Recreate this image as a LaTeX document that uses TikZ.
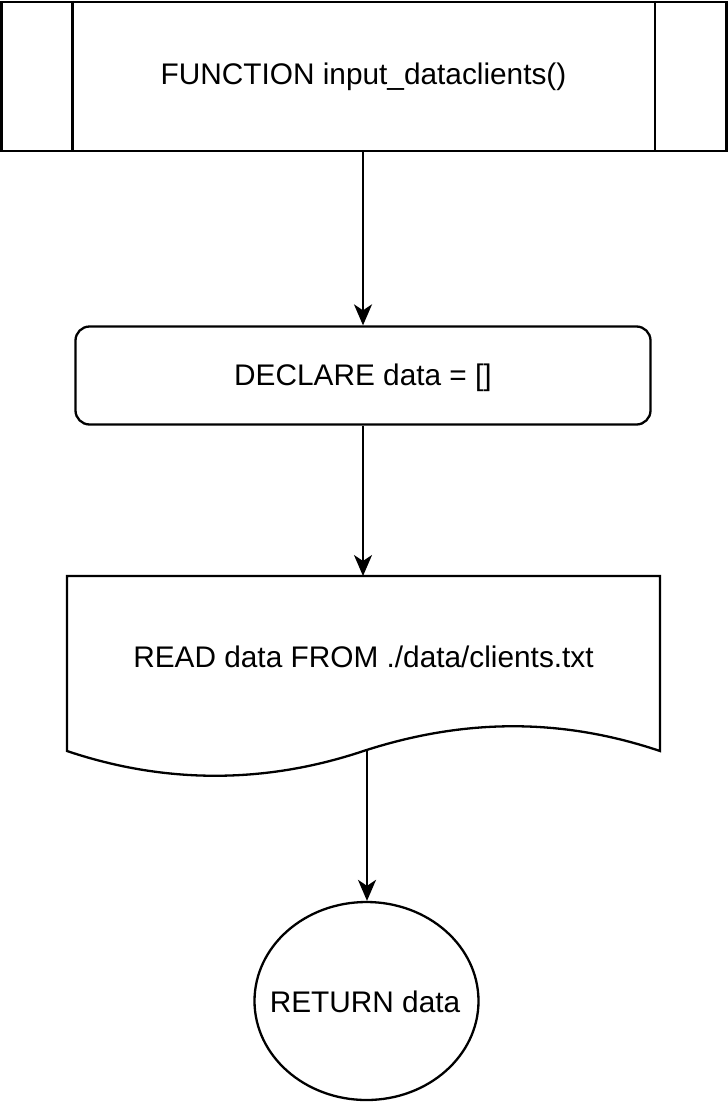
\documentclass[tikz,border=0pt]{standalone}
\usepackage{fontspec}
\setmainfont{Liberation Sans}
\usetikzlibrary{shapes.geometric,arrows.meta}
\begin{document}
\begin{tikzpicture}[x=1pt,y=-1pt,
  lw/.style={line width=2.3pt},
  txt/.style={font=\fontsize{29.8}{34}\selectfont, inner sep=0pt},
  arr/.style={lw,-{Stealth[length=21pt,width=18pt,inset=6pt]}}]
\useasboundingbox (0,0) rectangle (728,1103);
% predefined process
\node[draw,lw,rectangle,minimum width=725pt,minimum height=149pt,inner sep=0pt] (func) at (364,76.5) {};
\draw[lw] ([xshift=72pt]func.north west) -- ([xshift=72pt]func.south west);
\draw[lw] ([xshift=-73pt]func.north east) -- ([xshift=-73pt]func.south east);
\node[txt] (functxt) at (363.5,77) {FUNCTION input\_dataclients()};
% declare
\node[draw,lw,rectangle,rounded corners=14pt,minimum width=575pt,minimum height=98pt,inner sep=0pt] (decl) at (363,375.5) {};
\node[txt] (decltxt) at (363,378) {DECLARE data = []};
% document
\coordinate (dtl) at (67,576);
\coordinate (dtr) at (660,576);
\coordinate (dbr) at (660,751);
\coordinate (dbm) at (363.5,751);
\coordinate (dbl) at (67,751);
\draw[lw,line join=miter] (dtl) -- (dtr) -- (dbr)
  .. controls (562,718) and (465,718) .. (dbm)
  .. controls (265,784) and (165,784) .. (dbl) -- cycle;
\node[txt] (doctxt) at (363.5,657) {READ data FROM ./data/clients.txt};
\coordinate (docout) at (367,749);
\coordinate (doctop) at (363,576);
% return
\node[draw,lw,ellipse,minimum width=224pt,minimum height=198pt,inner sep=0pt] (ret) at (366.5,1001) {};
\node[txt] (rettxt) at (365,1002) {RETURN data};
% arrows
\draw[arr] (func.south -| 363,0) -- (decl.north -| 363,0);
\draw[arr] (decl.south -| 363,0) -- (doctop);
\draw[arr] (docout) -- (ret.north -| 367,0);
\end{tikzpicture}
\end{document}
